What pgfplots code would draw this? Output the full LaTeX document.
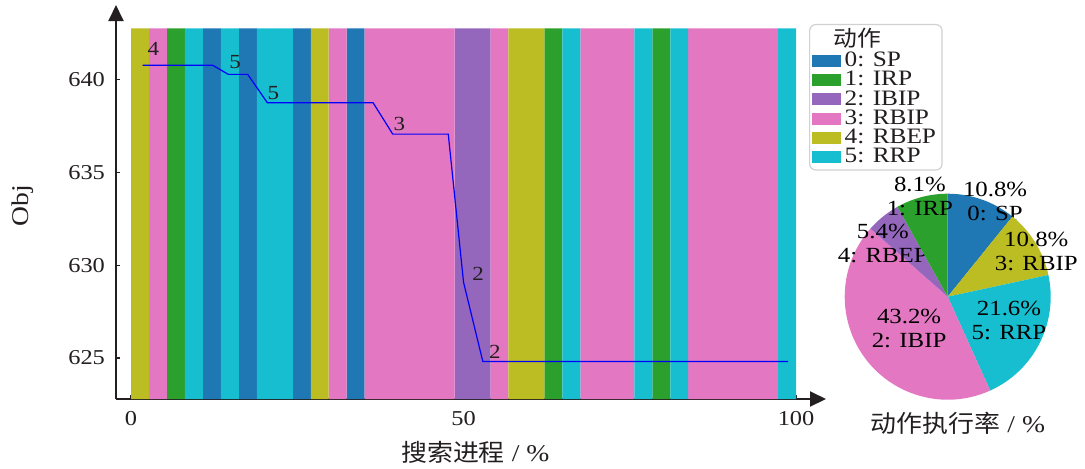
\documentclass[border=0pt]{standalone}
\usepackage{fontspec}
\setmainfont{Liberation Serif}[FakeStretch=1.15]
\newfontfamily\cjk{Noto Sans CJK SC}[FakeStretch=1.08]
\usepackage{pgfplots}
\usepackage{pgfplotstable}
\pgfplotsset{compat=1.18}
\usetikzlibrary{arrows.meta}

\definecolor{cSP}{HTML}{1F77B4}
\definecolor{cIRP}{HTML}{2CA02C}
\definecolor{cIBIP}{HTML}{9467BD}
\definecolor{cRBIP}{HTML}{E377C2}
\definecolor{cRBEP}{HTML}{BCBD22}
\definecolor{cRRP}{HTML}{17BECF}
\definecolor{axcol}{HTML}{231F20}

% action share: slice colour, percentage, label, label position
\pgfplotstableread{
col    pct   lab        lx      ly
cSP    10.8  {0: SP}    0.46    0.92
cRBEP  10.8  {3: RBIP}  0.86    0.435
cRRP   21.6  {5: RRP}   0.595  -0.23
cRBIP  43.2  {2: IBIP} -0.375  -0.31
cIBIP  5.4   {4: RBEP} -0.63    0.52
cIRP   8.1   {1: IRP}  -0.27    0.97
}\piedata

\pgfplotsset{
  patch/.style={legend image code/.code={\fill[##1, sharp corners] (0pt,-3pt) rectangle (14.5pt,3pt);}},
  band/.style={ybar, bar width=2.7027, bar shift=0pt, draw=none, fill=#1, patch},
}
\tikzset{
  pielab/.style={align=center, font=\fontsize{10.8}{12}\selectfont, text=black, inner sep=0pt},
  anno/.style={font=\fontsize{10}{10}\selectfont, text=axcol},
}

\begin{document}
\begin{tikzpicture}
\begin{axis}[
  width=355pt, height=197pt, scale only axis,
  xmin=-2.26, xmax=104.5, ymin=622.79, ymax=644.03,
  axis lines=left,
  axis line style={line width=1pt, color=axcol, -{Triangle[width=7.5pt,length=8pt]}},
  xtick={0,50,100}, ytick={625,630,635,640},
  tick align=inside, major tick length=2pt,
  tick style={line width=0.6pt, color=axcol},
  ticklabel style={font=\fontsize{10.6}{12}\selectfont, text=axcol},
  /pgf/number format/assume math mode=true,
  yticklabel style={xshift=-2pt},
  xticklabel style={yshift=-2.5pt},
  xlabel={{\cjk 搜索进程} / \%},
  xlabel style={at={(axis description cs:0.506,-0.135)}, anchor=center, font=\fontsize{12}{12}\selectfont, text=axcol},
  ylabel={Obj},
  ylabel style={at={(axis description cs:-0.131,0.49)}, anchor=center, font=\fontsize{12}{12}\selectfont, text=axcol},
  legend style={at={(axis description cs:0.9761,0.9518)}, anchor=north west,
    draw=black!18, rounded corners=3pt, line width=0.6pt,
    font=\fontsize{11}{11}\selectfont, text=axcol,
    inner xsep=1pt, inner ysep=0pt, row sep=-3.1pt, cells={anchor=west}},
]
\addlegendimage{empty legend}
\addlegendentry{\hspace*{-5.5pt}\cjk 动作}

% one bar per search segment (37 segments over 0--100 %)
\addplot[band=cSP] coordinates {(12.162,642.77) (17.568,642.77) (25.676,642.77) (33.784,642.77)};
\addlegendentry{0: SP}
\addplot[band=cIRP] coordinates {(6.757,642.77) (63.514,642.77) (79.730,642.77)};
\addlegendentry{1: IRP}
\addplot[band=cIBIP] coordinates {(50.000,642.77) (52.703,642.77)};
\addlegendentry{2: IBIP}
\addplot[band=cRBIP] coordinates {(4.054,642.77) (31.081,642.77) (36.486,642.77) (39.189,642.77)
  (41.892,642.77) (44.595,642.77) (47.297,642.77) (55.405,642.77) (68.919,642.77)
  (71.622,642.77) (74.324,642.77) (85.135,642.77) (87.838,642.77) (90.541,642.77)
  (93.243,642.77) (95.946,642.77)};
\addlegendentry{3: RBIP}
\addplot[band=cRBEP] coordinates {(1.351,642.77) (28.378,642.77) (58.108,642.77) (60.811,642.77)};
\addlegendentry{4: RBEP}
\addplot[band=cRRP] coordinates {(9.459,642.77) (14.865,642.77) (20.270,642.77) (22.973,642.77)
  (66.216,642.77) (77.027,642.77) (82.432,642.77) (98.649,642.77)};
\addlegendentry{5: RRP}

% objective value over the search
\addplot[blue, line width=0.6pt, forget plot] coordinates {
  (1.76,640.78) (12.29,640.78) (14.63,640.29) (17.55,640.29) (20.5,638.76)
  (36.4,638.76) (39.35,637.07) (47.7,637.07) (50.0,629.08) (52.9,624.81) (98.8,624.81)};

\node[anno] at (axis cs:3.35,641.64) {4};
\node[anno] at (axis cs:15.64,640.97) {5};
\node[anno] at (axis cs:21.4,639.27) {5};
\node[anno] at (axis cs:40.35,637.61) {3};
\node[anno] at (axis cs:52.2,629.56) {2};
\node[anno] at (axis cs:54.7,625.34) {2};
\end{axis}

\begin{axis}[
  at={(415.85pt,51.15pt)}, anchor=center,
  width=103pt, height=103pt, scale only axis,
  xmin=-1, xmax=1, ymin=-1, ymax=1,
  hide axis, clip=false,
]
\pgfplotstablegetrowsof{\piedata}
\pgfmathtruncatemacro\lastrow{\pgfplotsretval-1}
\xdef\pctsum{0}
\foreach \r in {0,...,\lastrow}{
  \pgfplotstablegetelem{\r}{pct}\of\piedata
  \pgfmathsetmacro\s{\pctsum+\pgfplotsretval}
  \xdef\pctsum{\s}
}
\xdef\angA{90}
\foreach \r in {0,...,\lastrow}{
  \pgfplotstablegetelem{\r}{pct}\of\piedata\let\pp\pgfplotsretval
  \pgfplotstablegetelem{\r}{col}\of\piedata\let\cc\pgfplotsretval
  \pgfplotstablegetelem{\r}{lab}\of\piedata\let\ll\pgfplotsretval
  \pgfplotstablegetelem{\r}{lx}\of\piedata\let\lx\pgfplotsretval
  \pgfplotstablegetelem{\r}{ly}\of\piedata\let\ly\pgfplotsretval
  \pgfmathsetmacro\angB{\angA-360*\pp/\pctsum}
  \edef\temp{\noexpand\fill[\cc] (axis cs:0,0) -- (axis cs:{cos(\angA)},{sin(\angA)})
    arc[start angle=\angA, end angle=\angB, radius=51.5pt] -- cycle;}
  \temp
  \edef\temp{\noexpand\node[pielab] at (axis cs:\lx,\ly) {\pp\noexpand\%\noexpand\\\ll};}
  \temp
  \xdef\angA{\angB}
}
\node[font=\fontsize{12}{12}\selectfont, text=axcol] at (axis cs:0.1,-1.226) {{\cjk 动作执行率} / \%};
\end{axis}

\pgfresetboundingbox
\path[use as bounding box] (-58pt,-34.5pt) rectangle (484.5pt,199.5pt);
\end{tikzpicture}
\end{document}
